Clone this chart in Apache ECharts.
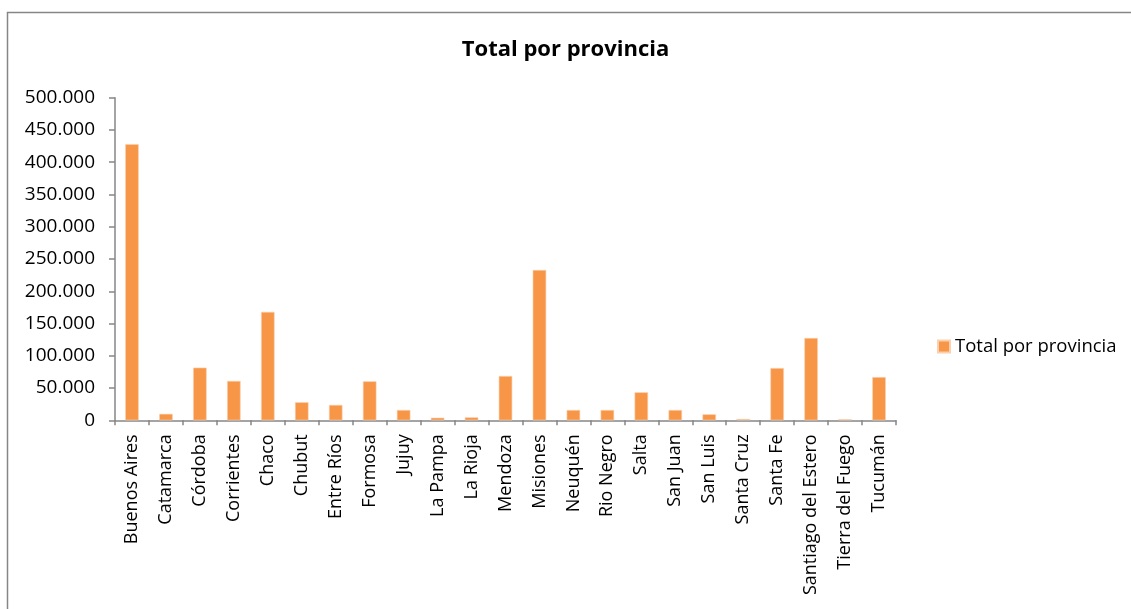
<!DOCTYPE html>
<html>
<head>
<meta charset="utf-8">
<script src="https://cdn.jsdelivr.net/npm/echarts@6/dist/echarts.min.js"></script>
<style>
  html, body { margin: 0; padding: 0; background: #fff; }
  #chart { width: 1131px; height: 609px; }
</style>
</head>
<body>
<div id="chart"></div>
<script>
const provincias = [
  'Buenos Aires', 'Catamarca', 'Córdoba', 'Corrientes', 'Chaco', 'Chubut',
  'Entre Ríos', 'Formosa', 'Jujuy', 'La Pampa', 'La Rioja', 'Mendoza',
  'Misiones', 'Neuquén', 'Rio Negro', 'Salta', 'San Juan', 'San Luis',
  'Santa Cruz', 'Santa Fe', 'Santiago del Estero', 'Tierra del Fuego', 'Tucumán'
]
const totales = [
  428000, 10000, 81600, 61000, 168000, 28000,
  23800, 60400, 16000, 4000, 4600, 68700,
  233000, 16000, 16000, 43400, 16000, 9300,
  2000, 81000, 127600, 1500, 67000
]
const yTicks = [0, 50000, 100000, 150000, 200000, 250000, 300000, 350000, 400000, 450000, 500000]

const fontFamily = '"Open Sans", "Noto Sans", sans-serif'
const axisGray = '#868686'

// thousands with a dot, as in the original (500.000)
const fmt = v => v === 0 ? '0' : v.toLocaleString('de-DE')

const chart = echarts.init(document.getElementById('chart'))

chart.setOption({
  animation: false,
  textStyle: { fontFamily },
  title: {
    text: 'Total por provincia',
    left: 'center',
    top: 34,
    textStyle: { fontSize: 22, fontWeight: 'bold', color: '#000', fontFamily }
  },
  legend: {
    data: ['Total por provincia'],
    left: 932,
    top: 332,
    orient: 'vertical',
    itemWidth: 12,
    itemHeight: 12,
    itemGap: 6,
    icon: 'rect',
    textStyle: { fontSize: 18.5, color: '#000', fontFamily }
  },
  graphic: [{
    type: 'rect',
    shape: { x: 7.5, y: 12.5, width: 1300, height: 800 },
    style: { fill: 'none', stroke: axisGray, lineWidth: 1.5 },
    silent: true
  }],
  grid: {
    left: 115,
    right: 235,
    top: 97.7,
    bottom: 188.7
  },
  xAxis: {
    type: 'category',
    data: provincias,
    axisLine: { lineStyle: { color: axisGray, width: 1.5 } },
    axisTick: { show: true, length: 5, alignWithLabel: false, lineStyle: { color: axisGray, width: 1.5 } },
    axisLabel: {
      interval: 0,
      rotate: 90,
      margin: 14,
      fontSize: 18,
      color: '#000',
      fontFamily
    }
  },
  yAxis: {
    type: 'value',
    min: 0,
    max: yTicks[yTicks.length - 1],
    interval: yTicks[1] - yTicks[0],
    splitLine: { show: false },
    axisLine: { show: true, lineStyle: { color: axisGray, width: 1.5 } },
    axisTick: { show: true, length: 6, lineStyle: { color: axisGray, width: 1.5 } },
    axisLabel: {
      margin: 20,
      fontSize: 19,
      color: '#000',
      fontFamily,
      formatter: fmt
    }
  },
  series: [{
    name: 'Total por provincia',
    type: 'bar',
    data: totales,
    barWidth: 13.5,
    itemStyle: { color: '#F79646', borderColor: '#FAD0AE', borderWidth: 0.6 }
  }]
})
</script>
</body>
</html>
